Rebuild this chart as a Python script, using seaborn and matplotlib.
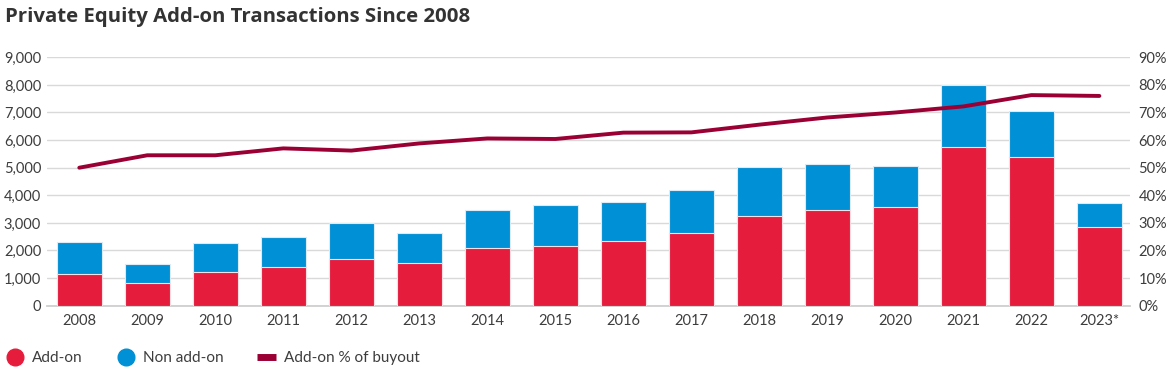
import pandas as pd
import matplotlib.pyplot as plt
import seaborn as sns
from matplotlib.lines import Line2D
from matplotlib.ticker import FuncFormatter

# Data
years = ['2008', '2009', '2010', '2011', '2012', '2013', '2014', '2015',
         '2016', '2017', '2018', '2019', '2020', '2021', '2022', '2023*']
addon = [1150, 810, 1210, 1420, 1680, 1550, 2080, 2170,
         2330, 2620, 3260, 3480, 3560, 5750, 5390, 2840]
total = [2310, 1500, 2260, 2500, 3000, 2640, 3460, 3650,
         3750, 4200, 5010, 5120, 5070, 7980, 7070, 3730]
addon_pct = [50.0, 54.5, 54.5, 57.0, 56.2, 58.8, 60.6, 60.4,
             62.7, 62.8, 65.6, 68.2, 70.0, 72.2, 76.3, 76.0]

df = pd.DataFrame({'year': years, 'addon': addon, 'total': total, 'pct': addon_pct})

RED = '#E61C3D'
BLUE = '#0090D5'
LINE = '#9A0034'
TXT = '#3d3d3d'

sns.set_theme(style='white')
plt.rcParams['font.family'] = ['Lato', 'DejaVu Sans']

fig = plt.figure(figsize=(11.75, 3.68), dpi=100)
ax = fig.add_axes([0.0397, 0.1693, 0.922, 0.675])

# stacked bars: total in blue, add-on drawn over it in red
sns.barplot(data=df, x='year', y='total', color=BLUE, width=0.667,
            saturation=1, edgecolor='#dcebf5', linewidth=0.8, ax=ax, zorder=2)
sns.barplot(data=df, x='year', y='addon', color=RED, width=0.667,
            saturation=1, edgecolor='#f5dfe3', linewidth=0.8, ax=ax, zorder=3)

ax.set_ylim(0, 9000)
ax.set_xlim(-0.48, 15.45)
ax.set_yticks(range(0, 9001, 1000))
ax.yaxis.set_major_formatter(FuncFormatter(lambda v, p: f'{int(v):,}'))
ax.grid(axis='y', color='#d9d9d9', linewidth=1, zorder=0)
ax.set_axisbelow(True)
for s in ['top', 'right', 'left']:
    ax.spines[s].set_visible(False)
ax.spines['bottom'].set_color('#cfcfcf')
ax.spines['bottom'].set_linewidth(1.3)
ax.set_xlabel('')
ax.set_ylabel('')
ax.tick_params(axis='both', length=0, labelsize=10.5, labelcolor=TXT)
ax.tick_params(axis='x', pad=6)
ax.tick_params(axis='y', pad=4)

ax2 = ax.twinx()
sns.lineplot(x=list(range(len(years))), y=addon_pct, color=LINE, linewidth=2.8,
             ax=ax2, zorder=5)
ax2.set_ylim(0, 90)
ax2.set_yticks(range(0, 91, 10))
ax2.yaxis.set_major_formatter(FuncFormatter(lambda v, p: f'{int(v)}%'))
for s in ax2.spines.values():
    s.set_visible(False)
ax2.tick_params(axis='y', length=0, labelsize=10.5, labelcolor=TXT, pad=6)
ax2.grid(False)

fig.text(0.004, 0.955, 'Private Equity Add-on Transactions Since 2008',
         fontsize=14.7, fontweight='bold', color='#333333', ha='left', va='center',
         family=['Open Sans', 'DejaVu Sans'])

handles = [
    Line2D([], [], marker='o', linestyle='', markersize=12, color=RED),
    Line2D([], [], marker='o', linestyle='', markersize=12, color=BLUE),
    Line2D([], [], linestyle='-', linewidth=5, color=LINE, solid_capstyle='butt'),
]
fig.legend(handles, ['Add-on', 'Non add-on', 'Add-on % of buyout'],
           loc='lower left', bbox_to_anchor=(-0.007, -0.03), ncol=3, frameon=False,
           fontsize=11, labelcolor=TXT, handlelength=1.2, handletextpad=0.55,
           columnspacing=2.2)

fig.savefig('out.png', dpi=100)
